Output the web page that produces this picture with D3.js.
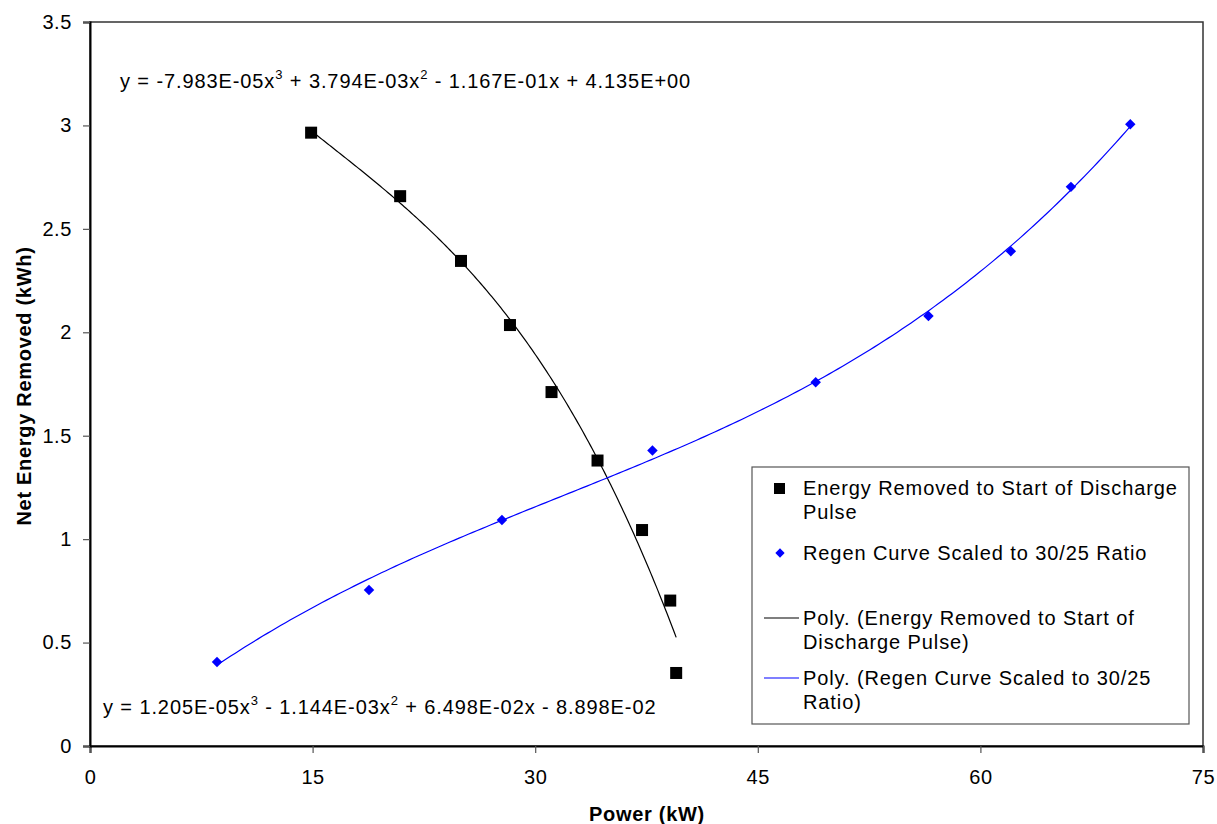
<!DOCTYPE html>
<html>
<head>
<meta charset="utf-8">
<script src="https://cdn.jsdelivr.net/npm/d3@7"></script>
<style>
  body { margin: 0; background: #fff; }
  svg text { font-family: "Liberation Sans", Arial, sans-serif; }
</style>
</head>
<body>
<script>
// energy removed to start of discharge pulse
var energyX = [14.9, 20.9, 25.0, 28.3, 31.1, 34.2, 37.2, 39.1, 39.5];
var energyY = [2.965, 2.658, 2.345, 2.035, 1.711, 1.380, 1.044, 0.703, 0.353];

// regen curve scaled to 30/25 ratio
var regenX = [8.56, 18.8, 27.76, 37.9, 48.9, 56.5, 62.05, 66.1, 70.1];
var regenY = [0.406, 0.754, 1.093, 1.428, 1.759, 2.079, 2.392, 2.703, 3.006];

// trendline coefficients (c3, c2, c1, c0)
var energyPoly = [-7.983E-05, 3.794E-03, -1.167E-01, 4.135E+00];
var regenPoly = [1.205E-05, -1.144E-03, 6.498E-02, -8.898E-02];

var xTicks = [0, 15, 30, 45, 60, 75];
var yTicks = [0, 0.5, 1, 1.5, 2, 2.5, 3, 3.5];

var W = 1217, H = 824;
var margin = {left: 90, top: 22, right: 14, bottom: 78};
var pw = W - margin.left - margin.right,
  ph = H - margin.top - margin.bottom;

var svg = d3.select("body").append("svg")
  .attr("width", W)
  .attr("height", H);

var g = svg.append("g")
  .attr("transform", "translate(" + margin.left + "," + margin.top + ")");

var x = d3.scaleLinear().domain([0, 75]).range([0, pw]);
var y = d3.scaleLinear().domain([0, 3.5]).range([ph, 0]);

// frame (top / right)
g.append("rect")
  .attr("width", pw)
  .attr("height", ph)
  .attr("fill", "none")
  .attr("stroke", "#333")
  .attr("stroke-width", 1.5);

var xAxis = g.append("g")
  .attr("transform", "translate(0," + ph + ")")
  .call(d3.axisBottom(x).tickValues(xTicks).tickSize(7).tickPadding(17).tickFormat(d3.format("d")));

var yAxis = g.append("g")
  .call(d3.axisLeft(y).tickValues(yTicks).tickSize(7).tickPadding(11).tickFormat(function (d) { return String(d); }));

[xAxis, yAxis].forEach(function (a) {
  a.select(".domain").attr("stroke", "#000").attr("stroke-width", 2);
  a.selectAll(".tick line").attr("stroke", "#555").attr("stroke-width", 1.2);
  a.selectAll(".tick text")
    .attr("fill", "#000")
    .style("font-size", "20px")
    .style("letter-spacing", "0.6px")
    .style("font-family", "'Liberation Sans', Arial, sans-serif");
});

function poly(c, v) { return c[0] * v * v * v + c[1] * v * v + c[2] * v + c[3]; }

function curve(c, xs) {
  var lo = d3.min(xs), hi = d3.max(xs), pts = [];
  for (var i = 0; i <= 200; i++) {
    var v = lo + (hi - lo) * i / 200;
    pts.push([v, poly(c, v)]);
  }
  return pts;
}

var line = d3.line()
  .x(function (d) { return x(d[0]); })
  .y(function (d) { return y(d[1]); });

g.append("path")
  .attr("d", line(curve(energyPoly, energyX)))
  .attr("fill", "none")
  .attr("stroke", "#000")
  .attr("stroke-width", 1.2);

g.append("path")
  .attr("d", line(curve(regenPoly, regenX)))
  .attr("fill", "none")
  .attr("stroke", "#0000ff")
  .attr("stroke-width", 1.2);

var sq = 12;
g.selectAll(".energy")
  .data(d3.range(energyX.length))
  .enter().append("rect")
  .attr("class", "energy")
  .attr("x", function (i) { return x(energyX[i]) - sq / 2; })
  .attr("y", function (i) { return y(energyY[i]) - sq / 2; })
  .attr("width", sq)
  .attr("height", sq)
  .attr("fill", "#000");

var diamond = d3.symbol().type(d3.symbolDiamond2).size(70);
g.selectAll(".regen")
  .data(d3.range(regenX.length))
  .enter().append("path")
  .attr("class", "regen")
  .attr("d", diamond)
  .attr("transform", function (i) { return "translate(" + x(regenX[i]) + "," + y(regenY[i]) + ")"; })
  .attr("fill", "#0000ff");

// trendline equations
function equation(parent, px, py, parts) {
  var t = parent.append("text")
    .attr("x", px)
    .attr("y", py)
    .style("font-size", "20px")
    .style("letter-spacing", "0.9px")
    .attr("fill", "#000");
  parts.forEach(function (p) {
    var s = t.append("tspan").text(p[0]);
    if (p[1]) s.attr("dy", -9).style("font-size", "13px");
    if (p[2]) s.attr("dy", 9);
  });
}

function fmt(v) {
  var s = Math.abs(v).toExponential(3).toUpperCase();
  var m = s.split("E");
  var e = +m[1];
  return m[0] + "E" + (e < 0 ? "-" : "+") + String(Math.abs(e)).padStart(2, "0");
}

function eqParts(c) {
  return [
    ["y = " + (c[0] < 0 ? "-" : "") + fmt(c[0]) + "x"], ["3", true],
    [" " + (c[1] < 0 ? "-" : "+") + " " + fmt(c[1]) + "x", false, true], ["2", true],
    [" " + (c[2] < 0 ? "-" : "+") + " " + fmt(c[2]) + "x " + (c[3] < 0 ? "-" : "+") + " " + fmt(c[3]), false, true]
  ];
}

equation(svg, 120, 88, eqParts(energyPoly));
equation(svg, 103, 714, eqParts(regenPoly));

// axis titles
svg.append("text")
  .attr("x", 647)
  .attr("y", 821)
  .attr("text-anchor", "middle")
  .style("font-size", "20px")
  .style("letter-spacing", "0.7px")
  .style("font-weight", "bold")
  .text("Power (kW)");

svg.append("text")
  .attr("transform", "translate(31," + (margin.top + ph / 2 + 2) + ") rotate(-90)")
  .attr("text-anchor", "middle")
  .style("font-size", "20px")
  .style("letter-spacing", "0.7px")
  .style("font-weight", "bold")
  .text("Net Energy Removed (kWh)");

// legend
var lg = svg.append("g").attr("transform", "translate(752,467)");
lg.append("rect")
  .attr("width", 437)
  .attr("height", 257)
  .attr("fill", "#fff")
  .attr("stroke", "#555")
  .attr("stroke-width", 1.2);

var legendItems = [
  {kind: "square", lines: ["Energy Removed to Start of Discharge", "Pulse"], y: 28},
  {kind: "diamond", lines: ["Regen Curve Scaled to 30/25 Ratio"], y: 93},
  {kind: "black", lines: ["Poly. (Energy Removed to Start of", "Discharge Pulse)"], y: 158},
  {kind: "blue", lines: ["Poly. (Regen Curve Scaled to 30/25", "Ratio)"], y: 218}
];

legendItems.forEach(function (d) {
  if (d.kind === "square") {
    lg.append("rect").attr("x", 22).attr("y", d.y - 7 - 5).attr("width", 11).attr("height", 11).attr("fill", "#000");
  } else if (d.kind === "diamond") {
    lg.append("path").attr("d", d3.symbol().type(d3.symbolDiamond2).size(55))
      .attr("transform", "translate(28," + (d.y - 7) + ")").attr("fill", "#0000ff");
  } else {
    lg.append("line").attr("x1", 12).attr("x2", 47).attr("y1", d.y - 7).attr("y2", d.y - 7)
      .attr("stroke", d.kind === "black" ? "#000" : "#0000ff").attr("stroke-width", 1.2);
  }
  d.lines.forEach(function (l, i) {
    lg.append("text")
      .attr("x", 51)
      .attr("y", d.y + i * 24)
      .style("font-size", "20px")
      .style("letter-spacing", "0.9px")
      .attr("fill", "#000")
      .text(l);
  });
});
</script>
</body>
</html>
